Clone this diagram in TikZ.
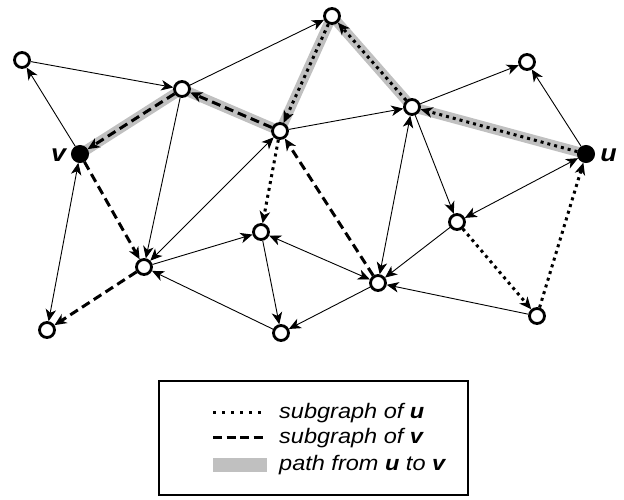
\documentclass[tikz,border=0pt]{standalone}
\usepackage{fontspec}
\setmainfont{Liberation Sans}
\newfontfamily\legfont[FakeStretch=1.12]{Liberation Sans}
\usetikzlibrary{arrows.meta,backgrounds}
\definecolor{pathgray}{RGB}{192,192,192}
\begin{document}
\begin{tikzpicture}[x=1pt,y=-1pt,
  >={Stealth[length=12pt,width=10.5pt,inset=3.5pt]},
  vtx/.style={circle,draw,line width=2.8pt,fill=white,minimum size=15pt,inner sep=0pt},
  fvtx/.style={circle,draw,line width=1pt,fill=black,minimum size=17pt,inner sep=0pt},
  thinedge/.style={line width=0.9pt,->},
  bothedge/.style={line width=0.9pt,<->},
  dotedge/.style={line width=3pt,dash pattern=on 3pt off 4pt,->},
  dashedge/.style={line width=3pt,dash pattern=on 9pt off 5pt,->},
  graypath/.style={line width=10pt,pathgray,line join=round},
  lbl/.style={font=\legfont\fontsize{24}{27}\selectfont\bfseries\itshape,inner sep=0pt},
  legtext/.style={font=\legfont\fontsize{21}{24}\selectfont\itshape,inner sep=0pt,anchor=base west}
]
\useasboundingbox (0,0) rectangle (624,499);

% vertices
\node[vtx]  (A) at (22,60)   {};
\node[vtx]  (B) at (182,89)  {};
\node[vtx]  (C) at (332,16)  {};
\node[vtx]  (D) at (280,131) {};
\node[vtx]  (E) at (412,107) {};
\node[vtx]  (F) at (527,62)  {};
\node[fvtx] (V) at (80,154)  {};
\node[fvtx] (U) at (586,154) {};
\node[vtx]  (G) at (144,267) {};
\node[vtx]  (H) at (261,232) {};
\node[vtx]  (I) at (457,222) {};
\node[vtx]  (J) at (378,283) {};
\node[vtx]  (K) at (47,330)  {};
\node[vtx]  (L) at (281,333) {};
\node[vtx]  (M) at (537,316) {};

\node[lbl] (vlab) at (58.5,155) {v};
\node[lbl] (ulab) at (608.5,155) {u};

\begin{pgfonlayer}{background}
  \draw[graypath] (U.center) -- (E.center) -- (C.center) -- (D.center) -- (B.center) -- (V.center);
  % thin edges
  \draw[thinedge] (V) -- (A);
  \draw[thinedge] (A) -- (B);
  \draw[thinedge] (B) -- (C);
  \draw[thinedge] (D) -- (E);
  \draw[thinedge] (E) -- (F);
  \draw[thinedge] (U) -- (F);
  \draw[thinedge] (B) -- (G);
  \draw[thinedge] (G) -- (H);
  \draw[thinedge] (L) -- (G);
  \draw[thinedge] (H) -- (L);
  \draw[thinedge] (J) -- (L);
  \draw[thinedge] (E) -- (I);
  \draw[thinedge] (I) -- (J);
  \draw[thinedge] (M) -- (J);
  \draw[bothedge] (V) -- (K);
  \draw[bothedge] (G) -- (D);
  \draw[bothedge] (U) -- (I);
  \draw[bothedge] (E) -- (J);
  \draw[bothedge] (H) -- (J);
  % subgraph of u
  \draw[dotedge] (U) -- (E);
  \draw[dotedge] (E) -- (C);
  \draw[dotedge] (C) -- (D);
  \draw[dotedge] (D) -- (H);
  \draw[dotedge] (I) -- (M);
  \draw[dotedge] (M) -- (U);
  % subgraph of v
  \draw[dashedge] (D) -- (B);
  \draw[dashedge] (B) -- (V);
  \draw[dashedge] (J) -- (D);
  \draw[dashedge] (V) -- (G);
  \draw[dashedge] (G) -- (K);
\end{pgfonlayer}

% legend
\draw[line width=1.2pt] (159,381) rectangle (468,495);
\draw[line width=3pt,dash pattern=on 3pt off 6pt] (213,412) -- (266,412);
\draw[line width=3pt,dash pattern=on 9pt off 4.5pt] (213,437) -- (266,437);
\fill[pathgray] (213,458) rectangle (267,472);
\node[legtext] (t1) at (279,418) {subgraph of \textbf{u}};
\node[legtext] (t2) at (279,443) {subgraph of \textbf{v}};
\node[legtext] (t3) at (279,470) {path from \textbf{u} to \textbf{v}};
\end{tikzpicture}
\end{document}
